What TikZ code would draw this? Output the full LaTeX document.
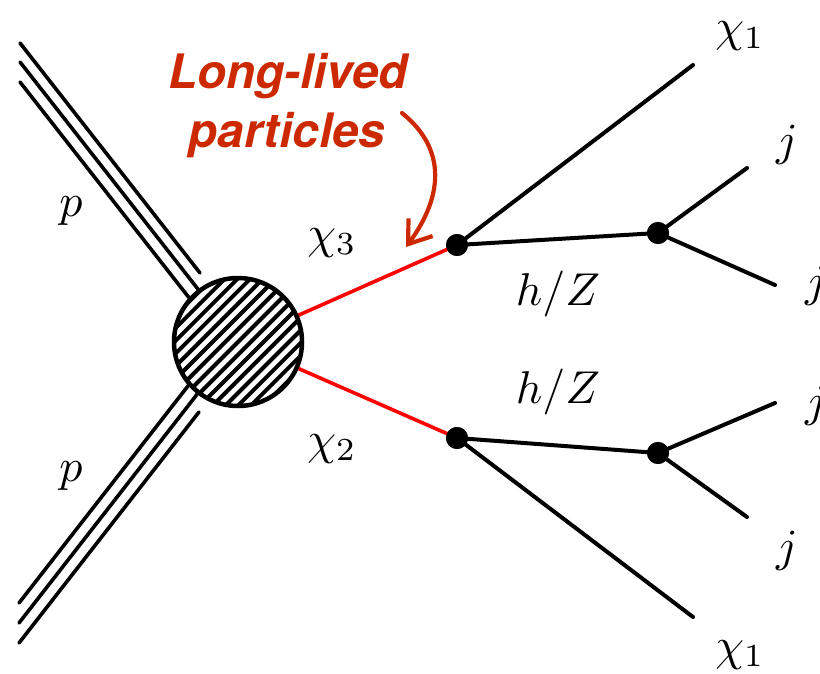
\documentclass[tikz,border=0pt]{standalone}
\usepackage{fontspec}
\newfontfamily\llpfont{TeX Gyre Heros}
\usetikzlibrary{arrows.meta}
\definecolor{llpred}{RGB}{204,41,0}
\begin{document}
\begin{tikzpicture}[x=1pt,y=-1pt,
  prot/.style={line width=3.6pt, line cap=round},
  fermion/.style={line width=4pt, line cap=round},
  llp/.style={red, line width=3.6pt},
  vtx/.style={circle, fill=black, inner sep=0pt, minimum size=22pt},
  lab/.style={font=\fontsize{10}{12}\selectfont, scale=4.6, anchor=base, inner sep=0pt},
  llptxt/.style={font=\llpfont\bfseries\itshape\fontsize{47.5}{59}\selectfont, text=llpred, anchor=base, inner sep=0pt},
]
\path[use as bounding box] (0,0) rectangle (820,674);
\clip (0,0) rectangle (820,674);

% named points
\coordinate (c) at (238,342);
\coordinate (pa1s) at (20,43);  \coordinate (pa1e) at (200,273);
\coordinate (pa2s) at (20,62);  \coordinate (pa2e) at (230,330);
\coordinate (pa3s) at (20,82);  \coordinate (pa3e) at (230,350);
\coordinate (pb1s) at (19,643); \coordinate (pb1e) at (199,412);
\coordinate (pb2s) at (19,623); \coordinate (pb2e) at (230,352);
\coordinate (pb3s) at (19,603); \coordinate (pb3e) at (230,332);

\node[vtx] (v1) at (457,245) {};
\node[vtx] (v2) at (658,233) {};
\node[vtx] (v3) at (457,438) {};
\node[vtx] (v4) at (658,453) {};

\coordinate (x1t) at (693,65);
\coordinate (x1b) at (693,617);
\coordinate (j1) at (747,168);
\coordinate (j2) at (775,285);
\coordinate (j3) at (775,403);
\coordinate (j4) at (747,517);

% proton lines
\draw[prot] (pa1s) -- (pa1e);
\draw[prot] (pa2s) -- (pa2e);
\draw[prot] (pa3s) -- (pa3e);
\draw[prot] (pb1s) -- (pb1e);
\draw[prot] (pb2s) -- (pb2e);
\draw[prot] (pb3s) -- (pb3e);

% long-lived (red) lines
\draw[llp] (c) -- (v1.center);
\draw[llp] (c) -- (v3.center);

% decay lines
\draw[fermion] (v1.center) -- (x1t);
\draw[fermion] (v1.center) -- (v2.center);
\draw[fermion] (v2.center) -- (j1);
\draw[fermion] (v2.center) -- (j2);
\draw[fermion] (v3.center) -- (x1b);
\draw[fermion] (v3.center) -- (v4.center);
\draw[fermion] (v4.center) -- (j3);
\draw[fermion] (v4.center) -- (j4);

% vertices on top
\node[vtx] at (v1) {};
\node[vtx] at (v2) {};
\node[vtx] at (v3) {};
\node[vtx] at (v4) {};

% blob
\node[circle, fill=white, inner sep=0pt, minimum size=128pt] (blob) at (c) {};
\begin{scope}
  \clip (c) circle (64);
  \foreach \k in {-10,...,10}
    \draw[line width=4pt, shift={(238+\k*12.73,342)}] (-100,100) -- (100,-100);
\end{scope}
\draw[line width=4.5pt] (c) circle (64);

% labels
\node[lab] (lp1) at (71,216) {$p$};
\node[lab] (lp2) at (71,481) {$p$};
\node[lab] (lx3) at (332,248) {$\chi_3$};
\node[lab] (lx2) at (332,454) {$\chi_2$};
\node[lab] (lhz1) at (558,305) {$h/Z$};
\node[lab] (lhz2) at (558,403) {$h/Z$};
\node[lab] (lx1t) at (740,42) {$\chi_1$};
\node[lab] (lx1b) at (740,660) {$\chi_1$};
\node[lab] (lj1) at (787,156) {$j$};
\node[lab] (lj2) at (816,296) {$j$};
\node[lab] (lj3) at (816,416) {$j$};
\node[lab] (lj4) at (787,561) {$j$};

% long-lived annotation
\node[llptxt] (t1) at (288,89) {Long-lived};
\node[llptxt] (t2) at (287,148) {particles};
\coordinate (as) at (402,113);
\coordinate (at) at (406,247);
\draw[llpred, line width=4.2pt, line cap=round, -{Straight Barb[length=21pt,width=30pt]}]
  (as) .. controls (448,150) and (442,198) .. (at);
\end{tikzpicture}
\end{document}
